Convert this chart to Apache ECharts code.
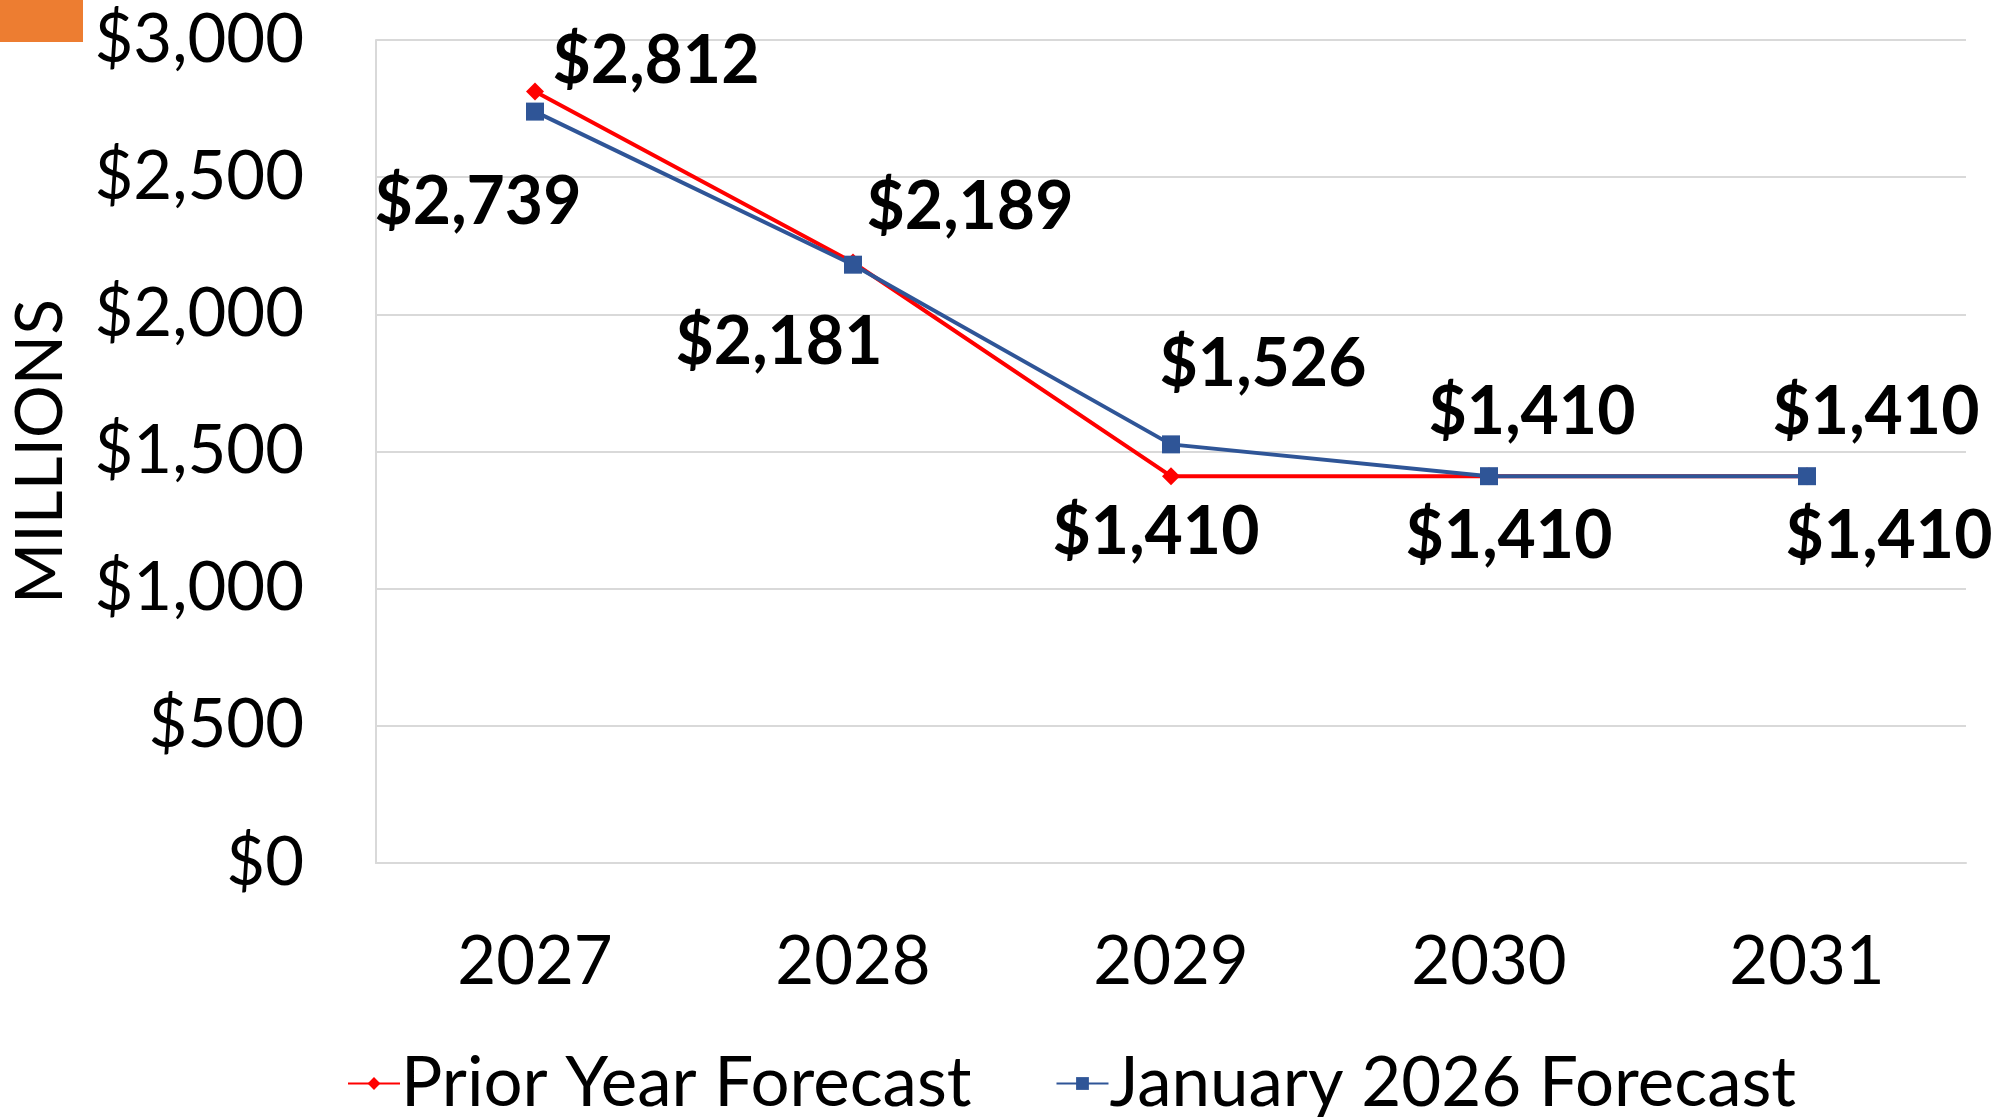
<!DOCTYPE html>
<html>
<head>
<meta charset="utf-8">
<script src="https://cdn.jsdelivr.net/npm/echarts@6/dist/echarts.min.js"></script>
<style>
  html, body { margin: 0; padding: 0; background: #fff; }
  #chart { width: 2004px; height: 1117px; }
</style>
</head>
<body>
<div id="chart"></div>
<script>
const years = ['2027', '2028', '2029', '2030', '2031'];
const priorYear = [2812, 2189, 1410, 1410, 1410];
const january2026 = [2739, 2181, 1526, 1410, 1410];
const yTicks = [0, 500, 1000, 1500, 2000, 2500, 3000];

// label nudges, px from each point
const priorOffsets = [[121, -30], [117, -55], [-15, 57], [20, 61], [82, 61]];
const janOffsets = [[-57, 91], [-74, 78], [92, -80], [43, -63], [69, -63]];

const money = v => '$' + v.toLocaleString('en-US');
const font = 'Lato, "Open Sans", sans-serif';

const withLabels = (values, offsets) =>
  values.map((v, i) => ({
    value: v,
    label: { offset: offsets[i] },
  }));

const labelStyle = {
  show: true,
  position: 'inside',
  align: 'center',
  verticalAlign: 'middle',
  formatter: p => money(p.value),
  fontFamily: font,
  fontWeight: 'bold',
  fontSize: 66,
  color: '#000',
};

const chart = echarts.init(document.getElementById('chart'));

chart.setOption({
  animation: false,
  graphic: [
    { type: 'rect', left: 0, top: 0, shape: { width: 83, height: 42 }, style: { fill: '#ed7d31' } },
  ],
  grid: { left: 371, right: 38, top: 40, bottom: 254 },
  legend: {
    bottom: -6,
    left: 342,
    itemWidth: 52,
    itemHeight: 16,
    itemGap: 84,
    textStyle: { fontFamily: font, fontSize: 69, color: '#000', padding: [0, 0, 0, -4] },
    data: ['Prior Year Forecast', 'January 2026 Forecast'],
  },
  xAxis: {
    type: 'category',
    data: years,
    axisLine: { lineStyle: { color: '#d9d9d9', width: 2 } },
    axisTick: { show: false },
    axisLabel: { margin: 66, fontFamily: font, fontSize: 67, color: '#000' },
  },
  yAxis: {
    type: 'value',
    min: yTicks[0],
    max: yTicks[yTicks.length - 1],
    interval: 500,
    name: 'MILLIONS',
    nameLocation: 'middle',
    nameGap: 302,
    nameRotate: 90,
    nameTextStyle: { fontFamily: font, fontSize: 66, color: '#000' },
    axisLine: { show: true, lineStyle: { color: '#d9d9d9', width: 2 } },
    axisTick: { show: false },
    splitLine: { lineStyle: { color: '#d9d9d9', width: 2 } },
    axisLabel: { margin: 72, fontFamily: font, fontSize: 67, color: '#000', formatter: v => money(v) },
  },
  series: [
    {
      name: 'Prior Year Forecast',
      type: 'line',
      data: withLabels(priorYear, priorOffsets),
      symbol: 'diamond',
      symbolSize: 18,
      lineStyle: { color: '#ff0000', width: 4 },
      itemStyle: { color: '#ff0000' },
      label: labelStyle,
      z: 2,
    },
    {
      name: 'January 2026 Forecast',
      type: 'line',
      data: withLabels(january2026, janOffsets),
      symbol: 'rect',
      symbolSize: 18,
      lineStyle: { color: '#2f5597', width: 4 },
      itemStyle: { color: '#2f5597' },
      label: labelStyle,
      z: 3,
    },
  ],
});
</script>
</body>
</html>
